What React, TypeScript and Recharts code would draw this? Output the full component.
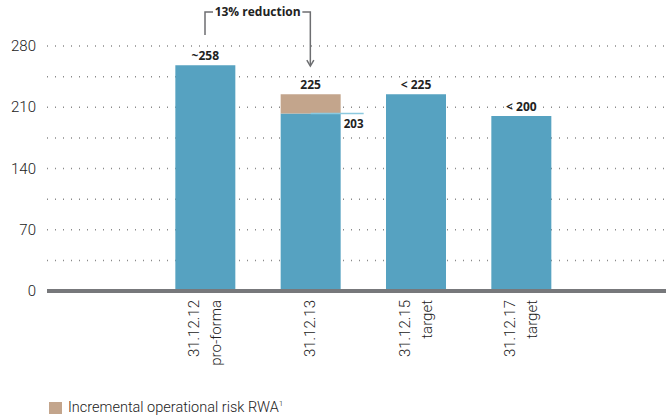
import React from 'react';
import {
  BarChart, Bar, XAxis, YAxis, CartesianGrid, Legend, LabelList, ReferenceLine,
} from 'recharts';

const CATEGORIES = ['31.12.12', '31.12.13', '31.12.15', '31.12.17'];
const SUB_LABELS = ['pro-forma', '', 'target', 'target'];
const BASE_RWA = [258, 203, 225, 200];
const INCREMENTAL_RWA = [0, 22, 0, 0];
const TOP_LABELS = ['~258', '225', '< 225', '< 200'];
const SIDE_LABELS = ['', '203', '', ''];
const Y_TICKS = [0, 35, 70, 105, 140, 175, 210, 245, 280];
const Y_LABELLED = [0, 70, 140, 210, 280];

// bracket above the first two bars
const REDUCTION_FROM = '31.12.12';
const REDUCTION_TO = '31.12.13';
const REDUCTION_LABEL = '13% reduction';
const REDUCTION_TOP = 319;
const REDUCTION_TIP = 257;

const BLUE = '#56a2c1';
const TAN = '#c3a58c';
const TEXT = '#222';
const GREY = '#6d6e71';
const FONT = 'Roboto, "Open Sans", sans-serif';
const BOLD_FONT = '"Open Sans", Roboto, sans-serif';

// padding bands left and right of the bars
const data = [
  { name: '' },
  ...CATEGORIES.map((name, i) => ({
    name,
    sub: SUB_LABELS[i],
    base: BASE_RWA[i],
    incremental: INCREMENTAL_RWA[i],
    topLabel: TOP_LABELS[i],
    sideLabel: SIDE_LABELS[i],
  })),
  { name: ' ' },
];

function YTick({ x, y, payload }: any) {
  if (!Y_LABELLED.includes(payload.value)) return null;
  return (
    <text x={x - 11} y={y} textAnchor="end" dominantBaseline="central"
      fontFamily={FONT} fontWeight={300} fontSize={15} fill={TEXT}>
      {payload.value}
    </text>
  );
}

function XTick({ x, y, payload }: any) {
  const row: any = data[payload.index];
  if (!row || row.base === undefined) return null;
  const lines = row.sub ? [row.name, row.sub] : [row.name];
  const offs = lines.length === 2 ? [-11, 11] : [0];
  return (
    <g transform={`translate(${x},${y + 9}) rotate(-90)`}>
      {lines.map((t: string, i: number) => (
        <text key={i} x={0} y={offs[i]} textAnchor="end" dominantBaseline="central"
          fontFamily={FONT} fontWeight={300} fontSize={15} fill={TEXT}>
          {t}
        </text>
      ))}
    </g>
  );
}

// placed on the base bar; lifted by the incremental part using the bar's own px/unit
function TopLabel({ x, y, width, height, value }: any) {
  if (!value) return null;
  const i = TOP_LABELS.indexOf(value);
  const pxPerUnit = height / BASE_RWA[i];
  const top = y - INCREMENTAL_RWA[i] * pxPerUnit;
  return (
    <text x={x + width / 2} y={top - 10} textAnchor="middle" dominantBaseline="central"
      fontFamily={BOLD_FONT} fontWeight={700} fontSize={12} fill={TEXT}>
      {value}
    </text>
  );
}

function SideLabel({ x, y, width, value }: any) {
  if (!value) return null;
  return (
    <g>
      <line x1={x + width / 2} x2={x + width + 23} y1={y} y2={y} stroke="#8cc9df" strokeWidth={1.5} />
      <text x={x + width + 13} y={y + 10} textAnchor="middle" dominantBaseline="central"
        fontFamily={BOLD_FONT} fontWeight={700} fontSize={11.5} fill={TEXT}>
        {value}
      </text>
    </g>
  );
}

function Bracket({ x1, y1, x2, y2 }: any) {
  const mid = (x1 + x2) / 2;
  return (
    <g stroke={GREY} strokeWidth={1.5} fill="none">
      <polyline points={`${x1},${y1 + 23} ${x1},${y1} ${x1 + 8},${y1}`} />
      <polyline points={`${x2 - 8},${y1} ${x2},${y1} ${x2},${y2 - 1}`} />
      <polyline points={`${x2 - 3.5},${y2 - 6} ${x2},${y2} ${x2 + 3.5},${y2 - 6}`} />
      <text x={mid} y={y1} textAnchor="middle" dominantBaseline="central" stroke="none"
        fontFamily={BOLD_FONT} fontWeight={700} fontSize={12} fill={TEXT}>
        {REDUCTION_LABEL}
      </text>
    </g>
  );
}

function LegendContent() {
  return (
    <div style={{ display: 'flex', alignItems: 'center', fontFamily: FONT, fontWeight: 300, fontSize: 14.5, color: TEXT, whiteSpace: 'nowrap' }}>
      <span style={{ display: 'inline-block', width: 13, height: 12, background: TAN, marginRight: 6 }} />
      <span>Incremental operational risk RWA<sup style={{ fontSize: 8 }}>1</sup></span>
    </div>
  );
}

export default function App() {
  return (
    <div style={{ position: 'absolute', left: 0, top: 0, width: 666, height: 416, overflow: 'hidden', background: '#fff' }}>
      <BarChart width={679} height={416} data={data} margin={{ top: 46, right: 0, left: 0, bottom: 0 }}>
        <CartesianGrid vertical={false} stroke="#8a8a8a" strokeWidth={1.5} strokeDasharray="1 7" />
        <YAxis type="number" domain={[0, 280]} ticks={Y_TICKS} interval={0} width={47}
          axisLine={false} tickLine={false} tickSize={0} tickMargin={0} tick={<YTick />} />
        <XAxis dataKey="name" interval={0} height={125} tickLine={false} tickSize={0} tickMargin={0}
          axisLine={{ stroke: '#77787b', strokeWidth: 4 }} tick={<XTick />} />
        <Bar dataKey="base" stackId="a" fill={BLUE} barSize={60} isAnimationActive={false}>
          <LabelList dataKey="sideLabel" content={<SideLabel />} />
          <LabelList dataKey="topLabel" content={<TopLabel />} />
        </Bar>
        <Bar dataKey="incremental" stackId="a" fill={TAN} barSize={60} isAnimationActive={false} />
        <ReferenceLine ifOverflow="visible"
          segment={[{ x: REDUCTION_FROM, y: REDUCTION_TOP }, { x: REDUCTION_TO, y: REDUCTION_TIP }]}
          shape={(p: any) => <Bracket {...p} />} />
        <Legend layout="horizontal" verticalAlign="middle" align="center" content={<LegendContent />}
          wrapperStyle={{ left: 49, top: 399, width: 'auto', height: 'auto' }} />
      </BarChart>
    </div>
  );
}
